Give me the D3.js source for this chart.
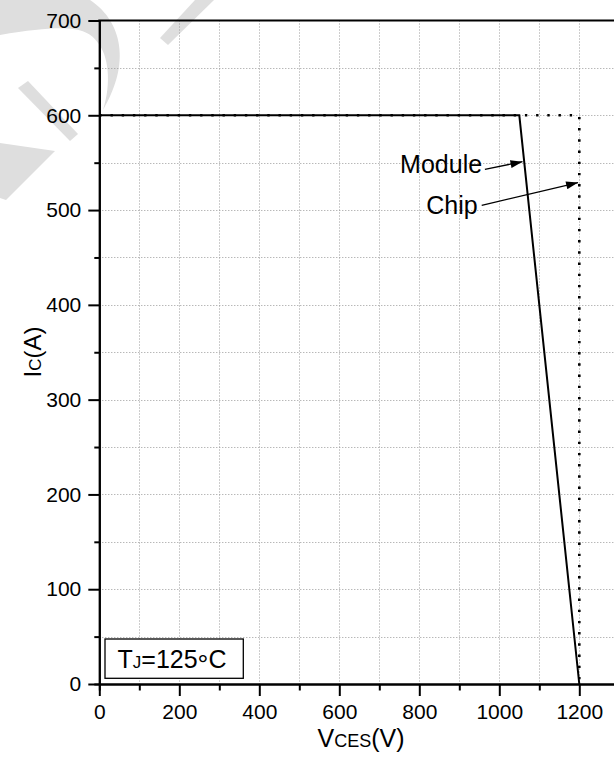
<!DOCTYPE html>
<html>
<head>
<meta charset="utf-8">
<script src="https://cdn.jsdelivr.net/npm/d3@7"></script>
<style>
  html, body { margin: 0; padding: 0; background: #fff; }
  svg { display: block; }
  text { font-family: "Liberation Sans", Arial, Helvetica, sans-serif; fill: #000; }
</style>
</head>
<body>
<svg id="chart" width="614" height="758"></svg>
<script>
// ---- data ----
const moduleV = [0, 1050, 1200];
const moduleI = [600, 600, 0];
const chipV = [0, 1200, 1200];
const chipI = [600, 600, 0];
const xMajorTicks = [0, 200, 400, 600, 800, 1000, 1200];
const xMinorTicks = [100, 300, 500, 700, 900, 1100, 1300];
const yMajorTicks = [0, 100, 200, 300, 400, 500, 600, 700];
const yMinorTicks = [50, 150, 250, 350, 450, 550, 650];
const xGrid = [100, 200, 300, 400, 500, 600, 700, 800, 900, 1000, 1100, 1200];
const yGrid = [50, 100, 150, 200, 250, 300, 350, 400, 450, 500, 550, 600, 650];
const labelNames = ["Module", "Chip"];
const labelTextV = [957, 946];     // text end position (V)
const labelTextI = [539, 496];     // text baseline (A)
const arrowFromV = [964, 956];
const arrowFromI = [543, 505];
const arrowToV = [1058, 1197];
const arrowToI = [551, 529];

// ---- layout ----
const svg = d3.select("#chart");
const x = d3.scaleLinear().domain([0, 1300]).range([99.3, 619.3]);
const y = d3.scaleLinear().domain([0, 700]).range([684, 20.5]);
const FONT = '"Liberation Sans", Arial, Helvetica, sans-serif';

// watermark (decorative, light grey)
const wm = svg.append("g").attr("fill", "#dedede");
wm.append("path").attr("d", "M0,0 L90,0 C118,18 134,58 103,110 C112,82 108,55 98,43 C88,28 70,23 0,35 Z");
wm.append("path").attr("d", "M18,88 L28,81 L78,134 L70,141 Z");
wm.append("path").attr("d", "M0,143 L55,151 L6,200 L0,198 Z");
wm.append("path").attr("d", "M160,38 L168,45 L214,0 L195,0 Z");

// grid
const grid = svg.append("g").attr("stroke", "#9a9a9a").attr("stroke-width", 1).attr("stroke-dasharray", "1,2");
grid.selectAll("line.gx").data(xGrid).join("line")
  .attr("x1", d => Math.round(x(d)) + 0.5).attr("x2", d => Math.round(x(d)) + 0.5)
  .attr("y1", y(700)).attr("y2", y(0));
grid.selectAll("line.gy").data(yGrid).join("line")
  .attr("y1", d => Math.round(y(d)) + 0.5).attr("y2", d => Math.round(y(d)) + 0.5)
  .attr("x1", x(0)).attr("x2", x(1300));

// chip (dotted)
const chipPts = chipV.map((v, i) => [v, chipI[i]]);
svg.append("path").datum(chipPts)
  .attr("d", d3.line().x(d => x(d[0])).y(d => y(d[1])))
  .attr("fill", "none").attr("stroke", "#000").attr("stroke-width", 2.6)
  .attr("stroke-dasharray", "2.4,8.8");

// module (solid)
const modPts = moduleV.map((v, i) => [v, moduleI[i]]);
svg.append("path").datum(modPts)
  .attr("d", d3.line().x(d => x(d[0])).y(d => y(d[1])))
  .attr("fill", "none").attr("stroke", "#000").attr("stroke-width", 2)
  .attr("stroke-linejoin", "miter");

// axes
function styleAxis(g) {
  g.select(".domain").attr("stroke", "#000").attr("stroke-width", 2);
  g.selectAll(".tick line").attr("stroke", "#000").attr("stroke-width", 2);
  g.selectAll(".tick text").attr("font-size", 21).attr("font-family", FONT).attr("fill", "#000");
}
const fmt = d3.format("d");
const xAxisMinor = svg.append("g").attr("transform", `translate(0,${y(0)})`)
  .call(d3.axisBottom(x).tickValues(xMinorTicks).tickSize(6.5).tickFormat(""));
styleAxis(xAxisMinor);
const xAxis = svg.append("g").attr("transform", `translate(0,${y(0)})`)
  .call(d3.axisBottom(x).tickValues(xMajorTicks).tickSize(12).tickPadding(7.6).tickSizeOuter(0).tickFormat(fmt));
styleAxis(xAxis);
const yAxisMinor = svg.append("g").attr("transform", `translate(${x(0)},0)`)
  .call(d3.axisLeft(y).tickValues(yMinorTicks).tickSize(5).tickFormat(""));
styleAxis(yAxisMinor);
const yAxis = svg.append("g").attr("transform", `translate(${x(0)},0)`)
  .call(d3.axisLeft(y).tickValues(yMajorTicks).tickSize(11).tickPadding(7).tickSizeOuter(0).tickFormat(fmt));
styleAxis(yAxis);
// top border
svg.append("line").attr("x1", x(0) - 1).attr("x2", x(1300)).attr("y1", y(700)).attr("y2", y(700))
  .attr("stroke", "#000").attr("stroke-width", 2);

// axis titles
const xt = svg.append("text").attr("x", 361).attr("y", 746.5).attr("text-anchor", "middle").attr("font-size", 25);
xt.append("tspan").text("V");
xt.append("tspan").attr("font-size", 18).text("CES");
xt.append("tspan").text("(V)");
const yt = svg.append("text").attr("transform", "translate(40.5,352) rotate(-90)").attr("text-anchor", "middle").attr("font-size", 24);
yt.append("tspan").text("I");
yt.append("tspan").attr("font-size", 17).text("C");
yt.append("tspan").text("(A)");

// arrow marker
const defs = svg.append("defs");
defs.append("marker").attr("id", "arrow").attr("markerUnits", "userSpaceOnUse")
  .attr("viewBox", "0 0 12 8").attr("refX", 12).attr("refY", 4)
  .attr("markerWidth", 13).attr("markerHeight", 8).attr("orient", "auto")
  .append("path").attr("d", "M0,0 L12,4 L0,8 Z").attr("fill", "#000");

// annotations
labelNames.forEach((name, i) => {
  svg.append("text").attr("x", x(labelTextV[i])).attr("y", y(labelTextI[i]))
    .attr("text-anchor", "end").attr("font-size", 25).text(name);
  svg.append("line")
    .attr("x1", x(arrowFromV[i])).attr("y1", y(arrowFromI[i]))
    .attr("x2", x(arrowToV[i])).attr("y2", y(arrowToI[i]))
    .attr("stroke", "#000").attr("stroke-width", 1.3).attr("marker-end", "url(#arrow)");
});

// Tj box
svg.append("rect").attr("x", 105).attr("y", 639).attr("width", 138.3).attr("height", 39.3)
  .attr("fill", "#fff").attr("stroke", "#000").attr("stroke-width", 1.3);
const tj = svg.append("text").attr("x", 117.5).attr("y", 668.3).attr("font-size", 25);
tj.append("tspan").text("T");
tj.append("tspan").attr("font-size", 17).text("J");
tj.append("tspan").text("=125");
tj.append("tspan").attr("dy", 6).attr("font-size", 27).text("°");
tj.append("tspan").attr("dy", -6).text("C");
</script>
</body>
</html>
